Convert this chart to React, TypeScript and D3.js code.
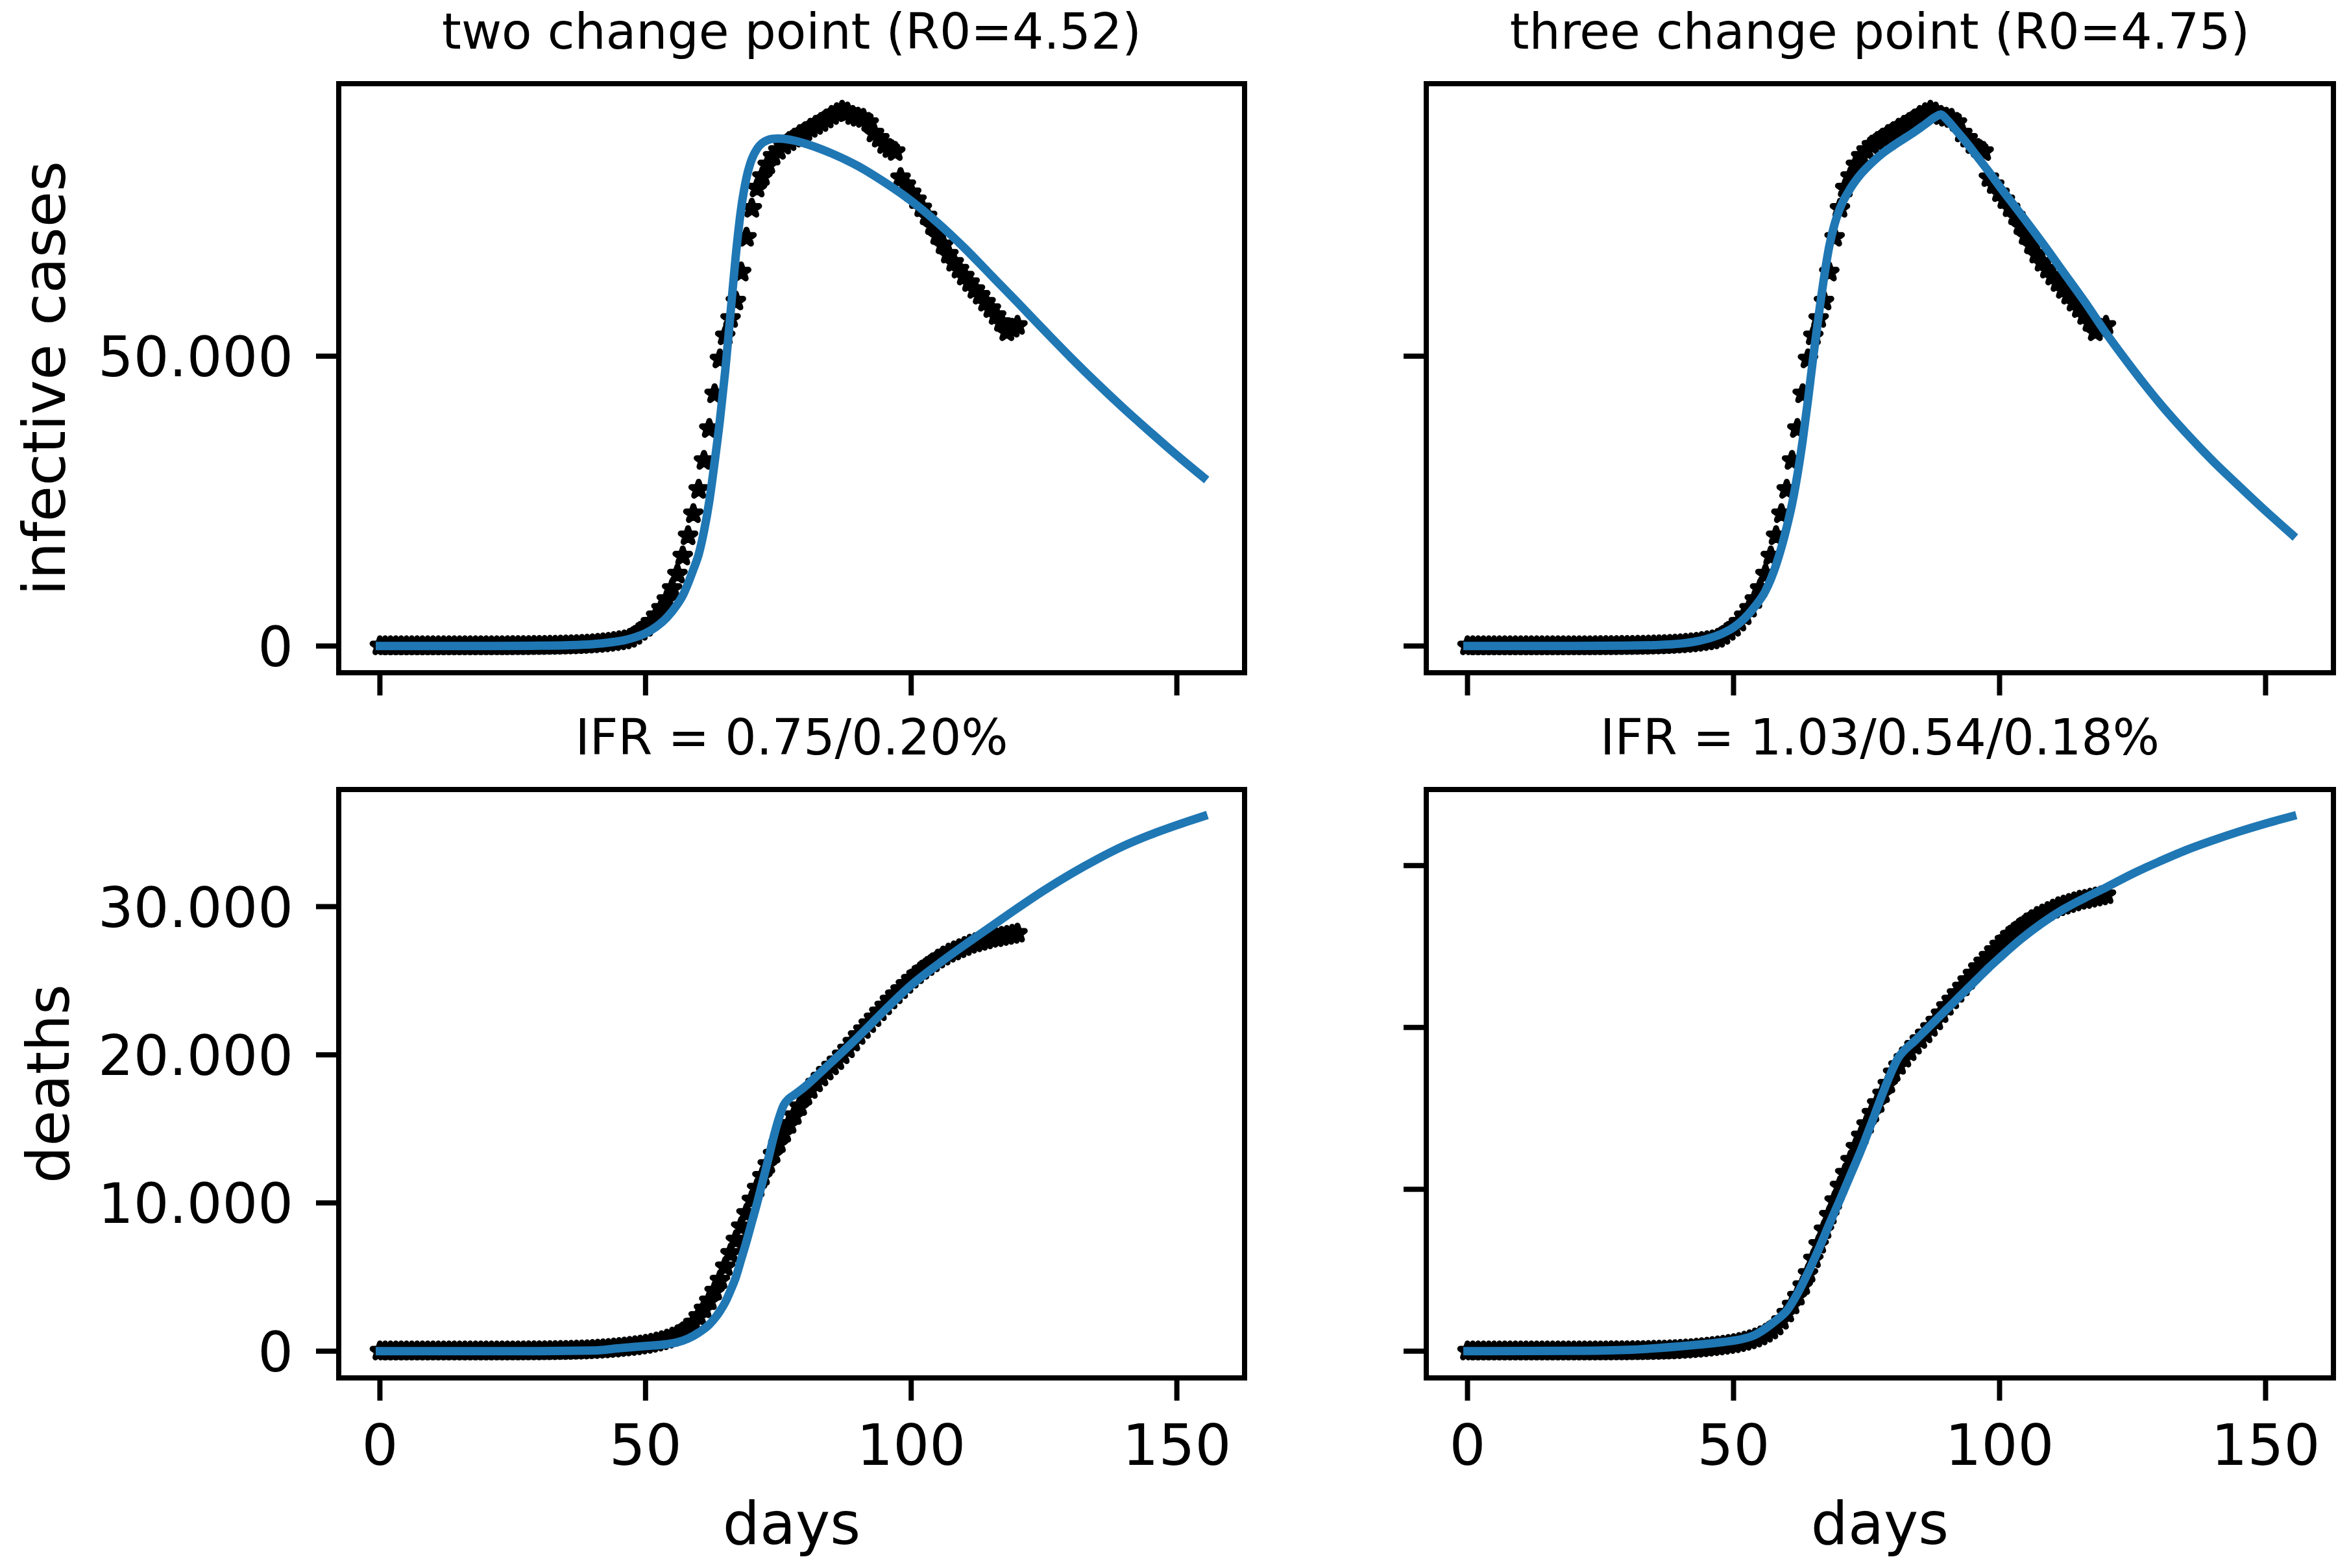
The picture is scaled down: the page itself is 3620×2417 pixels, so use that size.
import React, { useEffect, useRef } from "react";
import * as d3 from "d3";

// observed daily values, day 0 .. 120
const infective = [
  0, 0, 0, 0, 0, 0, 0, 0, 0, 0,
  0, 0, 1, 1, 2, 2, 3, 3, 4, 5,
  6, 8, 10, 13, 16, 20, 25, 31, 38, 46,
  56, 68, 82, 98, 118, 141, 168, 200, 240, 290,
  350, 420, 500, 600, 720, 860, 1020, 1300, 1800, 2500,
  3200, 4100, 5200, 6500, 8000, 9900, 12400, 15500, 19000, 22800,
  27000, 32000, 37500, 43500, 49500, 53500, 56500, 59500, 64500, 70500,
  75500, 79000, 81000, 83000, 84500, 85500, 86400, 87000, 87600, 88200,
  88700, 89300, 89800, 90300, 90900, 91500, 92000, 92400, 92100, 91500,
  91200, 91000, 90300, 88500, 87600, 86500, 85800, 85300, 80800, 79600,
  78200, 77000, 75600, 74200, 72500, 70800, 69200, 67600, 66200, 65000,
  63800, 62700, 61500, 60500, 59300, 58200, 57000, 55800, 54200, 54800,
  55300,
];

const deaths = [
  0, 0, 0, 0, 0, 0, 0, 0, 0, 0,
  0, 0, 0, 0, 0, 0, 0, 0, 1, 1,
  1, 2, 2, 3, 4, 5, 6, 8, 10, 12,
  15, 18, 22, 27, 33, 40, 48, 57, 68, 82,
  100, 120, 145, 170, 200, 235, 270, 310, 350, 400,
  450, 520, 600, 690, 800, 930, 1100, 1300, 1550, 1900,
  2350, 2850, 3400, 4050, 4800, 5700, 6600, 7500, 8400, 9300,
  10200, 11000, 11800, 12600, 13300, 14000, 14700, 15300, 15900, 16500,
  17200, 17650, 18100, 18500, 18900, 19250, 19600, 20000, 20400, 20850,
  21300, 21700, 22100, 22500, 22900, 23300, 23700, 24050, 24400, 24750,
  25100, 25400, 25700, 25950, 26200, 26450, 26650, 26850, 27000, 27150,
  27300, 27450, 27550, 27650, 27750, 27850, 27900, 27980, 28050, 28120,
  28200,
];

// fitted model curves [day, value]
const fitTwoInfective: [number, number][] = [
  [0, 0], [20, 5], [30, 40], [35, 110], [40, 300], [44, 700], [46, 1000], [48, 1500],
  [50, 2200], [52, 3300], [54, 4900], [56, 7200], [57, 8700], [58, 10800], [59, 13200],
  [60, 15800], [61, 19800], [62, 25000], [63, 31700], [64, 39000], [65, 47500],
  [66, 57500], [67, 67500], [68, 75500], [69, 80800], [70, 84000], [71, 85800],
  [72, 86800], [73, 87300], [74, 87500], [75, 87550], [76, 87500], [78, 87200],
  [80, 86700], [85, 85000], [90, 82800], [95, 80000], [100, 76800], [105, 73000],
  [110, 68700], [115, 64000], [120, 59300], [125, 54500], [130, 49800], [135, 45300],
  [140, 41000], [145, 36900], [150, 32900], [155, 29100],
];

const fitThreeInfective: [number, number][] = [
  [0, 0], [20, 10], [30, 60], [35, 150], [40, 400], [43, 800], [46, 1500], [48, 2200],
  [50, 3200], [52, 4700], [54, 6800], [56, 9500], [58, 14000], [59, 17000], [60, 20500],
  [61, 24500], [62, 29500], [63, 35500], [64, 42500], [65, 50000], [66, 57000],
  [67, 63500], [68, 69000], [69, 72800], [70, 75500], [72, 79000], [74, 81500],
  [76, 83400], [78, 85000], [80, 86300], [82, 87500], [84, 88700], [86, 90000],
  [88, 91300], [89, 91700], [90, 90900], [92, 88800], [94, 86600], [96, 84200],
  [98, 81800], [100, 79300], [104, 74500], [108, 69600], [112, 64500], [116, 59400],
  [120, 54000], [125, 47800], [130, 42000], [135, 36800], [140, 32000], [145, 27600],
  [150, 23300], [155, 19200],
];

const fitTwoDeaths: [number, number][] = [
  [0, 0], [30, 5], [40, 40], [45, 200], [50, 350], [54, 470], [56, 600], [58, 850],
  [60, 1250], [62, 1800], [64, 2700], [65, 3300], [66, 4100], [67, 5000], [68, 6200],
  [69, 7400], [70, 8700], [71, 10000], [72, 11400], [73, 12800], [74, 14300],
  [75, 15600], [76, 16600], [77, 17050], [78, 17300], [80, 17850], [82, 18500],
  [85, 19500], [90, 21200], [95, 23000], [100, 24700], [105, 26100], [110, 27400],
  [115, 28650], [120, 29900], [125, 31100], [130, 32200], [135, 33200], [140, 34100],
  [145, 34850], [150, 35500], [155, 36100],
];

const fitThreeDeaths: [number, number][] = [
  [0, 0], [20, 20], [30, 80], [40, 300], [44, 420], [48, 560], [52, 780], [54, 1000],
  [56, 1400], [58, 1900], [60, 2500], [62, 3550], [64, 4850], [66, 6300], [68, 7850],
  [70, 9350], [72, 10900], [74, 12450], [76, 14150], [78, 15900], [80, 17500],
  [81, 18150], [82, 18550], [84, 19150], [86, 19800], [88, 20450], [90, 21100],
  [92, 21750], [94, 22400], [96, 23050], [98, 23700], [100, 24300], [104, 25450],
  [108, 26450], [112, 27300], [116, 28000], [120, 28650], [125, 29500], [130, 30250],
  [135, 30950], [140, 31550], [145, 32100], [150, 32600], [155, 33050],
];

const titles = [
  "two change point (R0=4.52)",
  "three change point (R0=4.75)",
  "IFR = 0.75/0.20%",
  "IFR = 1.03/0.54/0.18%",
];
const yLabels = ["infective cases", "deaths"];
const xLabel = "days";
const xTicks = [0, 50, 100, 150];
const yTicksTop = [0, 50000];
const yTicksBottom = [0, 10000, 20000, 30000];

const W = 3620;
const H = 2417;
const FONT = "DejaVu Sans";

const fmt = d3
  .formatLocale({ decimal: ",", thousands: ".", grouping: [3], currency: ["", ""] })
  .format(",");

const App: React.FC = () => {
  const svgRef = useRef<SVGSVGElement | null>(null);

  useEffect(() => {
    const svg = d3.select(svgRef.current);
    svg.selectAll("*").remove();

    const cols = [
      [522, 1918],
      [2198, 3596],
    ];
    const rows = [
      [129, 1037],
      [1217, 2124],
    ];

    const pad = (lo: number, hi: number) => {
      const m = (hi - lo) * 0.05;
      return [lo - m, hi + m];
    };

    const topMax = d3.max([
      ...infective,
      ...fitTwoInfective.map(d => d[1]),
      ...fitThreeInfective.map(d => d[1]),
    ]) as number;

    const panels = [
      { row: 0, col: 0, data: infective, fit: fitTwoInfective, yDom: pad(0, topMax), yTicks: yTicksTop },
      { row: 0, col: 1, data: infective, fit: fitThreeInfective, yDom: pad(0, topMax), yTicks: yTicksTop },
      {
        row: 1, col: 0, data: deaths, fit: fitTwoDeaths,
        yDom: pad(0, d3.max([...deaths, ...fitTwoDeaths.map(d => d[1])]) as number),
        yTicks: yTicksBottom,
      },
      {
        row: 1, col: 1, data: deaths, fit: fitThreeDeaths,
        yDom: pad(0, d3.max([...deaths, ...fitThreeDeaths.map(d => d[1])]) as number),
        yTicks: yTicksBottom,
      },
    ];

    const star = d3.symbol().type(d3.symbolStar).size(160)();

    panels.forEach((p, i) => {
      const [x0, x1] = cols[p.col];
      const [y0, y1] = rows[p.row];
      const x = d3.scaleLinear().domain(pad(0, 155)).range([x0, x1]);
      const y = d3.scaleLinear().domain(p.yDom).range([y1, y0]);
      const g = svg.append("g");

      // observed points
      g.selectAll("path.pt")
        .data(p.data)
        .join("path")
        .attr("class", "pt")
        .attr("d", star)
        .attr("transform", (d, j) => `translate(${x(j)},${y(d)})`)
        .attr("fill", "#000")
        .attr("stroke", "#000")
        .attr("stroke-width", 9)
        .attr("stroke-linejoin", "round");

      // model fit
      const line = d3
        .line<[number, number]>()
        .x(d => x(d[0]))
        .y(d => y(d[1]))
        .curve(d3.curveMonotoneX);
      g.append("path")
        .attr("d", line(p.fit))
        .attr("fill", "none")
        .attr("stroke", "#1f77b4")
        .attr("stroke-width", 13)
        .attr("stroke-linejoin", "round")
        .attr("stroke-linecap", "square");

      // frame
      g.append("rect")
        .attr("x", x0)
        .attr("y", y0)
        .attr("width", x1 - x0)
        .attr("height", y1 - y0)
        .attr("fill", "none")
        .attr("stroke", "#000")
        .attr("stroke-width", 8);

      // y ticks
      p.yTicks.forEach(t => {
        g.append("line")
          .attr("x1", x0 - 35).attr("x2", x0)
          .attr("y1", y(t)).attr("y2", y(t))
          .attr("stroke", "#000").attr("stroke-width", 8);
        if (p.col === 0) {
          g.append("text")
            .attr("x", x0 - 70)
            .attr("y", y(t))
            .attr("dy", "0.36em")
            .attr("text-anchor", "end")
            .style("font-family", FONT)
            .style("font-size", "86px")
            .text(fmt(t));
        }
      });

      // x ticks
      xTicks.forEach(t => {
        g.append("line")
          .attr("x1", x(t)).attr("x2", x(t))
          .attr("y1", y1).attr("y2", y1 + 35)
          .attr("stroke", "#000").attr("stroke-width", 8);
        if (p.row === 1) {
          g.append("text")
            .attr("x", x(t))
            .attr("y", y1 + 134)
            .attr("text-anchor", "middle")
            .style("font-family", FONT)
            .style("font-size", "88px")
            .text(String(t));
        }
      });

      // title
      g.append("text")
        .attr("x", (x0 + x1) / 2)
        .attr("y", y0 - 54)
        .attr("text-anchor", "middle")
        .style("font-family", FONT)
        .style("font-size", "76px")
        .text(titles[i]);

      if (p.row === 1) {
        g.append("text")
          .attr("x", (x0 + x1) / 2)
          .attr("y", 2380)
          .attr("text-anchor", "middle")
          .style("font-family", FONT)
          .style("font-size", "90px")
          .text(xLabel);
      }
      if (p.col === 0) {
        g.append("text")
          .attr("transform", `translate(${p.row === 0 ? 100 : 106},${(y0 + y1) / 2}) rotate(-90)`)
          .attr("text-anchor", "middle")
          .style("font-family", FONT)
          .style("font-size", "90px")
          .text(yLabels[p.row]);
      }
    });
  }, []);

  return (
    <svg
      ref={svgRef}
      width={W}
      height={H}
      style={{ position: "absolute", left: 0, top: 0, background: "#fff" }}
    />
  );
};

export default App;
